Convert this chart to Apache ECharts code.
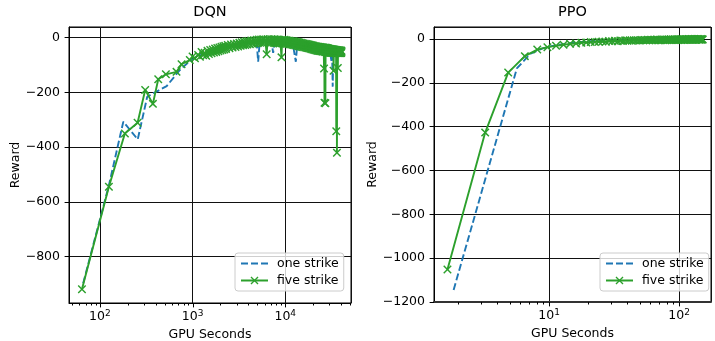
<!DOCTYPE html>
<html><head><meta charset="utf-8">
<script src="https://cdn.jsdelivr.net/npm/echarts@6/dist/echarts.min.js"></script>
<style>html,body{margin:0;padding:0;background:#fff}#c{width:715px;height:341px}</style>
</head><body><div id="c"></div>
<script>
// ---------- data (GPU seconds, reward) ----------
const dqnOneStrike = [
 [66,-898],[125,-540],[179,-307],[256,-372],[324,-216],[408,-197],[525,-177],[730,-118],[900,-90],[1100,-70],
 [1300,-60],[1500,-52],[1700,-46],[1900,-40],[2100,-37],[2300,-33],[2500,-30],[2800,-27],[3100,-24],[3400,-21],
 [3700,-19],[4000,-17],[4300,-15],[4600,-14],[4900,-13],[5100,-88],[5300,-14],[5600,-12],[5900,-13],[6200,-12],
 [6500,-14],[6800,-13],[7100,-12],[7400,-56],[7700,-13],[8000,-14],[8500,-13],[9000,-15],[9500,-14],[10000,-16],
 [10500,-15],[11000,-17],[11500,-16],[12000,-18],[12500,-19],[13000,-88],[13500,-20],[14000,-21],[15000,-22],[16000,-24],
 [17000,-25],[18000,-27],[19000,-28],[20000,-30],[21000,-31],[22000,-33],[23000,-34],[24000,-36],[25000,-37],[26000,-39],
 [27000,-40],[28000,-41],[29000,-43],[30000,-44],[31000,-45],[31500,-85],[32000,-46],[32500,-179],[33000,-47],[34000,-48],
 [35000,-49],[36000,-50],[37000,-50],[38000,-51],[39000,-51]
];
const dqnFiveStrike = [
 [64,-920],[125,-545],[186,-350],[255,-311],[308,-191],[373,-242],[426,-152],[515,-134],[671,-125],[760,-97],[933,-82],[1000,-69],[1060,-75],[1148,-63],
 [1200,-70],[1250,-52],[1300,-64],[1350,-55],[1400,-66],[1450,-48],[1500,-60],[1550,-45],[1600,-57],[1650,-43],
 [1700,-54],[1750,-40],[1800,-52],[1850,-38],[1900,-50],[1950,-36],[2000,-47],[2050,-33],[2100,-45],[2150,-31],
 [2200,-43],[2250,-30],[2300,-41],[2400,-27],[2500,-39],[2600,-25],[2700,-36],[2800,-23],[2900,-34],[3000,-21],
 [3100,-32],[3200,-19],[3300,-30],[3400,-17],[3500,-28],[3600,-15],[3700,-27],[3800,-13],[3900,-25],[4000,-12],
 [4150,-24],[4300,-10],[4450,-22],[4600,-9],[4750,-21],[4900,-8],[5050,-20],[5200,-7],[5350,-19],[5500,-7],
 [5650,-19],[5800,-6],[5950,-18],[6100,-8],[6300,-61],[6450,-6],[6600,-18],[6750,-7],[6900,-19],[7050,-6],
 [7200,-18],[7350,-7],[7500,-19],[7650,-6],[7800,-20],[7950,-8],[8100,-19],[8250,-7],[8400,-20],[8550,-8],
 [8700,-21],[8850,-9],[9100,-72],[9250,-8],[9400,-21],[9550,-9],[9700,-22],[9850,-8],[10000,-21],[10200,-9],
 [10400,-22],[10600,-10],[10800,-23],[11000,-11],[11200,-24],[11400,-12],[11600,-25],[11800,-13],[12000,-26],[12200,-13],
 [12400,-27],[12600,-14],[12800,-28],[13000,-15],[13200,-29],[13400,-16],[13600,-30],[13800,-17],[14000,-31],[14250,-18],
 [14500,-32],[14750,-19],[15000,-33],[15250,-20],[15500,-34],[15750,-21],[16000,-35],[16250,-22],[16500,-36],[16750,-23],
 [17000,-37],[17250,-24],[17500,-38],[17750,-25],[18000,-39],[18250,-26],[18500,-40],[18750,-27],[19000,-41],[19250,-28],
 [19500,-42],[19750,-29],[20000,-43],[20250,-30],[20500,-44],[20750,-31],[21000,-45],[21250,-31],[21500,-46],[21750,-32],
 [22000,-47],[22250,-33],[22500,-48],[22750,-33],[23000,-48],[23250,-34],[23500,-49],[23750,-34],[24000,-49],[24250,-35],
 [24500,-50],[24750,-35],[25000,-50],[25200,-36],[25400,-51],[25600,-36],[25800,-51],[26000,-37],[26200,-113],[26400,-38],
 [26500,-238],[26650,-37],[26800,-52],[26950,-38],[27100,-240],[27250,-37],[27400,-52],[27550,-38],[27700,-52],[27850,-38],
 [28000,-53],[28200,-39],[28400,-53],[28600,-39],[28800,-53],[29000,-40],[29200,-54],[29400,-40],[29600,-54],[29800,-41],
 [30000,-54],[30200,-41],[30400,-54],[30600,-41],[30800,-55],[31000,-42],[31200,-55],[31400,-42],[31600,-55],[31800,-42],
 [32000,-55],[32200,-43],[32400,-55],[32600,-43],[32800,-55],[33000,-43],[33200,-121],[33400,-44],[33600,-55],[33800,-44],
 [34000,-55],[34200,-44],[34400,-56],[34600,-45],[34800,-56],[35000,-45],[35200,-56],[35350,-45],[35500,-342],[35650,-46],
 [35800,-56],[35950,-46],[36100,-421],[36300,-46],[36500,-56],[36700,-46],[36900,-111],[37100,-47],[37300,-56],[37500,-47],
 [37700,-56],[37900,-47],[38100,-56],[38300,-47],[38500,-56],[38700,-47],[38900,-56],[39100,-48],[39300,-56],[39500,-48],
 [39700,-56],[39900,-48],[40100,-56],[40300,-48],[40500,-52]
];
const ppoOneStrike = [
 [1.84,-1145],[3.5,-565],[5.64,-134],[7.2,-66],[8.8,-44],[10.4,-32],[12,-26],[13.6,-21],[15.2,-17],[16.8,-14],
 [18.4,-12],[20,-10],[21.6,-9],[23.2,-8],[24.8,-8],[26.4,-7],[28,-7],[30,-6],[33,-6],[36,-5],
 [40,-5],[45,-4],[50,-4],[55,-3],[60,-3],[70,-3],[80,-2],[90,-2],[100,-2],[110,-2],[120,-1],[130,-1],[140,-1],[150,-1]
];
const ppoFiveStrike = [
 [1.65,-1052],[3.22,-427],[4.84,-153],[6.5,-78],[8.1,-48],[9.7,-37],[11.3,-31],[12.9,-26],[14.5,-22],[16.1,-20],
 [17.7,-17],[19.3,-16],[20.9,-14],[22.5,-13],[24.1,-12],[25.7,-11],[27.3,-12],[28.9,-9],[30.5,-10],[32.1,-8],
 [33.7,-10],[35.3,-7],[36.9,-9],[38.5,-6],[40.1,-8],[41.7,-6],[43.3,-8],[44.9,-5],[46.5,-7],[48.1,-5],
 [49.7,-7],[51.3,-4],[52.9,-6],[54.5,-4],[56.1,-6],[57.7,-3],[59.3,-6],[60.9,-3],[62.5,-5],[64.1,-3],
 [65.7,-5],[67.3,-2],[68.9,-5],[70.5,-3],[72.1,-5],[73.7,-2],[75.3,-4],[76.9,-2],[78.5,-5],[80.1,-2],
 [81.7,-4],[83.3,-2],[84.9,-4],[86.5,-1],[88.1,-4],[89.7,-2],[91.3,-4],[92.9,-1],[94.5,-4],[96.1,-2],
 [97.7,-4],[99.3,-1],[100.9,-3],[102.5,-1],[104.1,-4],[105.7,-1],[107.3,-3],[108.9,-1],[110.5,-4],[112.1,-1],
 [113.7,-3],[115.3,-1],[116.9,-3],[118.5,0],[120.1,-3],[121.7,-1],[123.3,-3],[124.9,0],[126.5,-3],[128.1,-1],
 [129.7,-3],[131.3,0],[132.9,-3],[134.5,-1],[136.1,-3],[137.7,0],[139.3,-2],[140.9,0],[142.5,-3],[144.1,-1],
 [145.7,-2],[147.3,0],[148.9,-3],[150.5,-1],[152.1,-2]
];
const seriesNames = ['one strike','five strike'];
const panelTitles = ['DQN','PPO'];
const dqnMinorTicks = [50,60,70,80,90,200,300,400,500,600,700,800,900,2000,3000,4000,5000,6000,7000,8000,9000,20000,30000,40000,50000];
const dqnMajorTicks = [100,1000,10000];
const ppoMinorTicks = [2,3,4,5,6,7,8,9,20,30,40,50,60,70,80,90];
const ppoMajorTicks = [10,100];

// ---------- styling ----------
const FONT = 'DejaVu Sans';
const BLUE = '#1f77b4', GREEN = '#2ca02c';
const XMARK = 'path://M0,1.2L1.2,0L5,3.8L8.8,0L10,1.2L6.2,5L10,8.8L8.8,10L5,6.2L1.2,10L0,8.8L3.8,5Z';
const minus = v => (v < 0 ? '\u2212' : '') + Math.abs(v);
const pow10 = v => '{b|10}{s|' + Math.round(Math.log10(v)) + '}';

const grids = [
  {left: 69, top: 27, width: 282, height: 276},
  {left: 434, top: 27, width: 277, height: 275}
];
const xExt = [[46.4, 51200], [1.30, 176]];
const yExt = [[-970, 39], [-1200, 55]];

function xAxis(i) {
  return {
    type: 'log', gridIndex: i, min: xExt[i][0], max: xExt[i][1], logBase: 10,
    name: 'GPU Seconds', nameLocation: 'middle', nameGap: 21,
    nameTextStyle: {fontFamily: FONT, fontSize: 12.5, color: '#000'},
    axisLine: {show: true, onZero: false, lineStyle: {color: i === 1 ? '#333' : '#000', width: i === 1 ? 2 : 1}},
    axisTick: {show: false},
    minorTick: {show: false},
    splitLine: {show: true, lineStyle: {color: '#111', width: 1}},
    axisLabel: {
      margin: 6, showMinLabel: false, showMaxLabel: false, formatter: pow10, color: '#000',
      rich: {b: {fontFamily: FONT, fontSize: 12.5, lineHeight: 16, color: '#000'},
             s: {fontFamily: FONT, fontSize: 9, lineHeight: 9, verticalAlign: 'top', color: '#000'}}
    }
  };
}
function yAxis(i) {
  const a = {
    type: 'value', gridIndex: i, min: yExt[i][0], max: yExt[i][1],
    name: 'Reward', nameLocation: 'middle', nameGap: i === 0 ? 46 : 54, nameRotate: 90,
    nameTextStyle: {fontFamily: FONT, fontSize: 12.5, color: '#000'},
    axisLine: {show: true, lineStyle: {color: '#000', width: 1}},
    axisTick: {show: true, length: 4.4, lineStyle: {color: '#000', width: 1}},
    splitLine: {show: true, lineStyle: {color: '#111', width: 1}},
    axisLabel: {margin: 9, showMinLabel: i === 1, showMaxLabel: false, formatter: minus,
                fontFamily: FONT, fontSize: 12.5, color: '#000'}
  };
  if (i === 1) a.interval = 200; else a.splitNumber = 5;
  return a;
}
function tickSeries(i, values, len) {
  return {
    type: 'custom', xAxisIndex: i, yAxisIndex: i, silent: true, clip: false, z: 10,
    data: values.map(v => [v, yExt[i][0]]),
    renderItem(params, api) {
      const p = api.coord([api.value(0), api.value(1)]);
      const cs = params.coordSys;
      const x = Math.round(p[0]) + 0.5;
      const y = cs.y + cs.height;
      return {type: 'line', shape: {x1: x, y1: y, x2: x, y2: y + len},
              style: {stroke: '#000', lineWidth: 1}};
    }
  };
}
function lineSeries(i, name, data) {
  const five = name === 'five strike';
  return {
    type: 'line', name, data, xAxisIndex: i, yAxisIndex: i,
    symbol: five ? XMARK : 'none', symbolSize: 8.5, showSymbol: five,
    itemStyle: {color: five ? GREEN : BLUE},
    lineStyle: {color: five ? GREEN : BLUE, width: 1.9, type: five ? 'solid' : [7, 3]},
    emphasis: {disabled: true}, animation: false, z: five ? 3 : 2
  };
}
function legend(left) {
  return {
    data: [{name: seriesNames[0], itemStyle: {opacity: 0}}, {name: seriesNames[1]}],
    orient: 'vertical', left, top: 253,
    itemWidth: 27, itemHeight: 10, itemGap: 4, padding: [4, 5, 4, 5],
    backgroundColor: 'rgba(255,255,255,0.8)', borderColor: '#ccc', borderWidth: 1, borderRadius: 3,
    selectedMode: false,
    textStyle: {fontFamily: FONT, fontSize: 12.5, color: '#000', padding: [0, 0, 0, 4]}
  };
}

const chart = echarts.init(document.getElementById('c'), null, {renderer: 'canvas'});
chart.setOption({
  animation: false,
  backgroundColor: '#fff',
  grid: grids.map(g => Object.assign({show: true, borderColor: '#000', borderWidth: 1, backgroundColor: '#fff',
                                      containLabel: false, outerBoundsMode: 'none'}, g)),
  xAxis: [xAxis(0), xAxis(1)],
  yAxis: [yAxis(0), yAxis(1)],
  legend: [legend(235), legend(600)],
  graphic: panelTitles.map((t, i) => ({
    type: 'text', x: grids[i].left + grids[i].width / 2, y: 12,
    style: {text: t, fontFamily: FONT, fontSize: 14.5, fill: '#000', align: 'center', verticalAlign: 'middle'}
  })),
  series: [
    lineSeries(0, 'one strike', dqnOneStrike),
    lineSeries(0, 'five strike', dqnFiveStrike),
    lineSeries(1, 'one strike', ppoOneStrike),
    lineSeries(1, 'five strike', ppoFiveStrike),
    tickSeries(0, dqnMajorTicks, 4.4), tickSeries(0, dqnMinorTicks, 2.5),
    tickSeries(1, ppoMajorTicks, 4.4), tickSeries(1, ppoMinorTicks, 2.5)
  ]
});
</script></body></html>
